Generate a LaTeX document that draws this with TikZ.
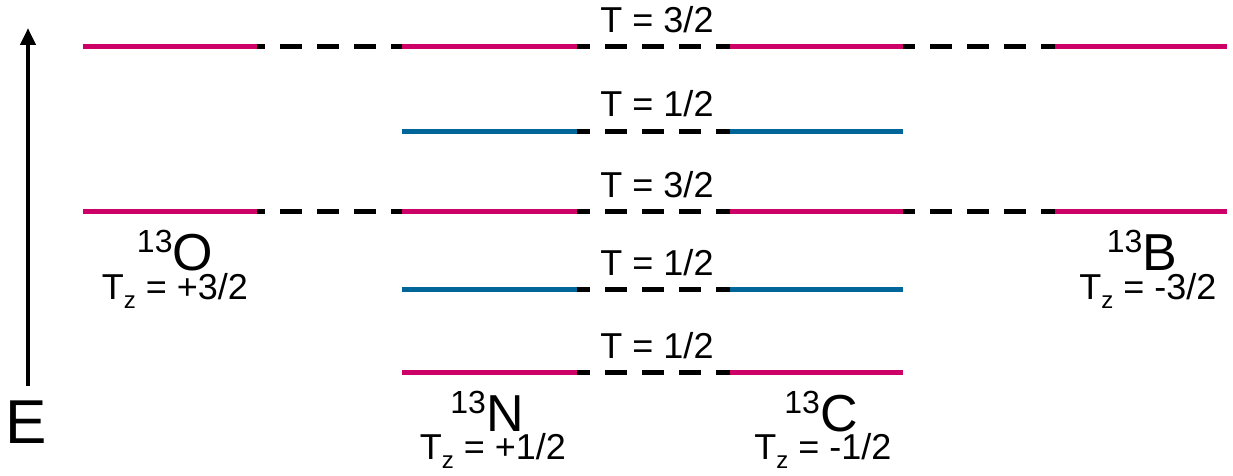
\documentclass[tikz,border=0pt]{standalone}
\usepackage{fontspec}
\setmainfont{Liberation Sans}
\usetikzlibrary{arrows.meta}
\definecolor{lvpink}{RGB}{204,0,102}
\definecolor{lvblue}{RGB}{0,102,153}
\newcommand{\isolabel}[2]{{\fontsize{32}{32}\selectfont\raisebox{18pt}{#1}}{\fontsize{52}{52}\selectfont #2}}
\newcommand{\tzlabel}[1]{{\fontsize{36}{36}\selectfont T\raisebox{-9pt}{\fontsize{24}{24}\selectfont z} = #1}}
\tikzset{
  pinklevel/.style={draw=lvpink,line width=5pt},
  bluelevel/.style={draw=lvblue,line width=5pt},
  dashlink/.style={draw=black,line width=5pt,dash pattern=on 22pt off 15pt},
  tlabel/.style={inner sep=0pt,anchor=base,font=\fontsize{36}{36}\selectfont},
  biglabel/.style={inner sep=0pt,anchor=base}
}
\begin{document}
\begin{tikzpicture}[x=1pt,y=-1pt]
\useasboundingbox (0,0) rectangle (1233,476);
% level coordinates
\foreach \r/\y in {1/47,2/131,3/211,4/289,5/372}{
  \coordinate (O\r s) at (83,\y);  \coordinate (O\r e) at (257,\y);
  \coordinate (N\r s) at (402,\y); \coordinate (N\r e) at (577,\y);
  \coordinate (C\r s) at (730,\y); \coordinate (C\r e) at (903,\y);
  \coordinate (B\r s) at (1055,\y);\coordinate (B\r e) at (1227,\y);
}
% dashed links (drawn first, levels on top)
\foreach \r in {1,3}{
  \draw[dashlink] ([xshift=-14pt]O\r e) -- ([xshift=11pt]N\r s);
  \draw[dashlink] ([xshift=-9pt]N\r e) -- ([xshift=7pt]C\r s);
  \draw[dashlink] ([xshift=-10pt]C\r e) -- ([xshift=10pt]B\r s);
}
\foreach \r in {2,4,5}{
  \draw[dashlink] ([xshift=-9pt]N\r e) -- ([xshift=7pt]C\r s);
}
% T = 3/2 rows
\foreach \r in {1,3}{
  \draw[pinklevel] (O\r s) -- (O\r e);
  \draw[pinklevel] (N\r s) -- (N\r e);
  \draw[pinklevel] (C\r s) -- (C\r e);
  \draw[pinklevel] (B\r s) -- (B\r e);
}
% T = 1/2 rows
\draw[bluelevel] (N2s) -- (N2e);
\draw[bluelevel] (C2s) -- (C2e);
\draw[bluelevel] (N4s) -- (N4e);
\draw[bluelevel] (C4s) -- (C4e);
\draw[pinklevel] (N5s) -- (N5e);
\draw[pinklevel] (C5s) -- (C5e);
% isospin labels
\node[tlabel] (t1) at (657,33) {T = 3/2};
\node[tlabel] (t2) at (657,117) {T = 1/2};
\node[tlabel] (t3) at (657,197) {T = 3/2};
\node[tlabel] (t4) at (657,275) {T = 1/2};
\node[tlabel] (t5) at (657,358) {T = 1/2};
% nuclei labels
\node[biglabel] (lO) at (175,270) {\isolabel{13}{O}};
\node[biglabel] (tzO) at (175,299) {\tzlabel{+3/2}};
\node[biglabel] (lB) at (1142,270) {\isolabel{13}{B}};
\node[biglabel] (tzB) at (1148,299) {\tzlabel{-3/2}};
\node[biglabel] (lN) at (487,431) {\isolabel{13}{N}};
\node[biglabel] (tzN) at (493,459) {\tzlabel{+1/2}};
\node[biglabel] (lC) at (821,431) {\isolabel{13}{C}};
\node[biglabel] (tzC) at (823,459) {\tzlabel{-1/2}};
% energy axis
\coordinate (ebot) at (28,386);
\coordinate (etop) at (28,28);
\draw[line width=4.5pt,-{Triangle[length=17pt,width=15pt]}] (ebot) -- (etop);
\node[biglabel,font=\fontsize{62}{62}\selectfont] (E) at (26,443) {E};
\end{tikzpicture}
\end{document}
